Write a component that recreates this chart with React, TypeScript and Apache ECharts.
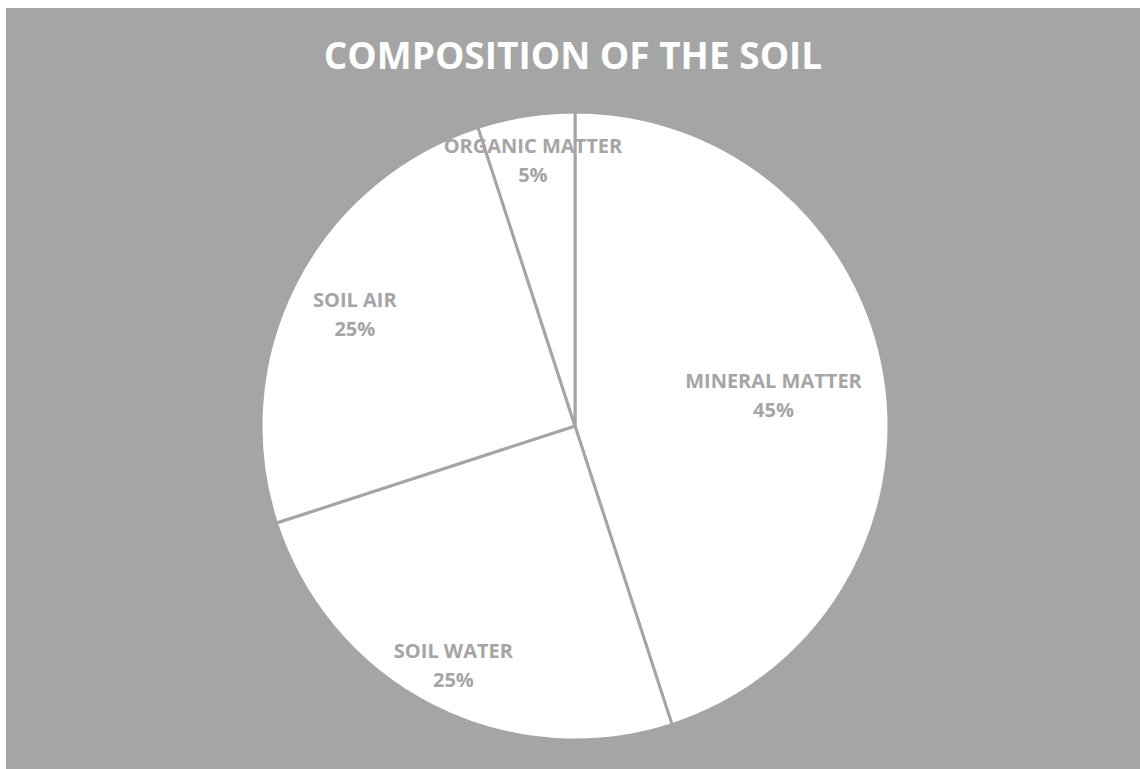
import React, { useEffect, useRef } from "react";
import * as echarts from "echarts";

const titleText = "COMPOSITION OF THE SOIL";
const categories = ["MINERAL MATTER", "SOIL WATER", "SOIL AIR", "ORGANIC MATTER"];
const values = [45, 25, 25, 5];
// radial position of each label as a fraction of the radius
const labelRadialFractions = [0.64, 0.853, 0.787, 0.857];

const GRAY = "#a5a5a5";

export default function App() {
  const ref = useRef<HTMLDivElement>(null);
  useEffect(() => {
    if (!ref.current) return;
    const chart = echarts.init(ref.current, undefined, { renderer: "svg" });
    const total = values.reduce((a, b) => a + b, 0);
    const cx = 569;
    const cy = 418;
    const r = 314;
    chart.setOption({
      animation: false,
      backgroundColor: GRAY,
      title: {
        text: titleText,
        left: "center",
        top: 23,
        padding: [5, 5, 5, 17],
        textStyle: {
          color: "#ffffff",
          fontFamily: "Open Sans",
          fontWeight: "bold",
          fontSize: 37,
        },
      },
      series: [
        {
          type: "pie",
          center: [cx, cy],
          radius: r,
          startAngle: 90,
          clockwise: true,
          data: categories.map((c, i) => ({ name: c, value: values[i] })),
          itemStyle: { color: "#ffffff", borderColor: GRAY, borderWidth: 3 },
          label: {
            show: true,
            position: "inside",
            formatter: "{b}\n{d}%",
            color: GRAY,
            fontFamily: "Open Sans",
            fontWeight: "bold",
            fontSize: 20,
            lineHeight: 29,
            align: "center",
          },
          labelLine: { show: false },
          emphasis: { disabled: true },
          labelLayout: (params: any) => {
            const i = params.dataIndex;
            let before = 0;
            for (let k = 0; k < i; k++) before += values[k];
            const mid = ((before + values[i] / 2) / total) * Math.PI * 2;
            const rr = r * labelRadialFractions[i];
            return {
              x: cx + Math.sin(mid) * rr,
              y: cy - Math.cos(mid) * rr,
              align: "center",
              verticalAlign: "middle",
            };
          },
        },
      ],
    });
    return () => chart.dispose();
  }, []);
  return (
    <div
      ref={ref}
      style={{ position: "absolute", left: 6, top: 8, width: 1134, height: 761 }}
    />
  );
}
